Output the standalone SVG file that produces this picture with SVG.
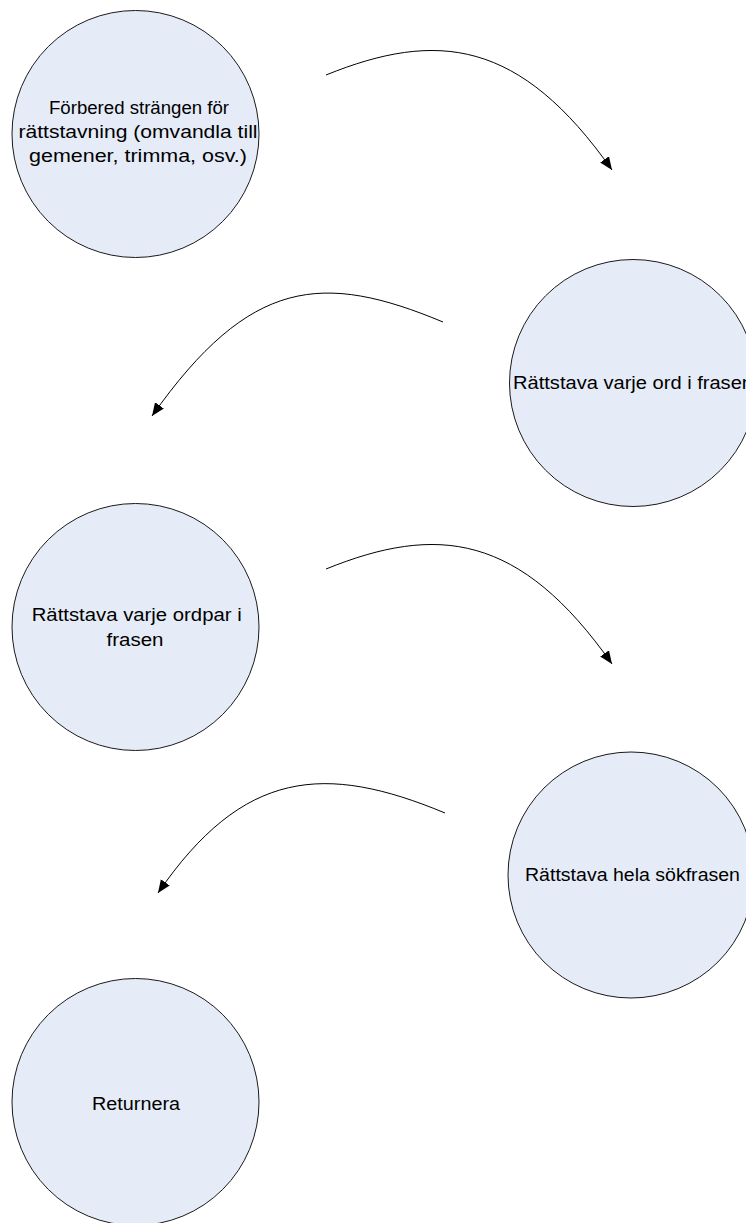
<svg xmlns="http://www.w3.org/2000/svg" width="746" height="1223" viewBox="0 0 746 1223">
<style>
.node{fill:#E6ECF7;stroke:#1a1a1a;stroke-width:1}
.lbl{font-family:"Liberation Sans",Arial,sans-serif;font-size:18.7px;fill:#000;text-anchor:middle}
.conn{fill:none;stroke:#000;stroke-width:1}
</style>
<defs>
<marker id="ah" markerUnits="userSpaceOnUse" markerWidth="14" markerHeight="12" refX="12" refY="5" orient="auto" viewBox="0 0 13 10">
<path d="M0,0 L12,5 L0,10 z" fill="#000"/>
</marker>
</defs>
<rect width="746" height="1223" fill="#fff"/>
<g id="n1">
<circle class="node" cx="135.5" cy="134" r="123.5"/>
<text class="lbl"><tspan x="139" y="114" textLength="180" lengthAdjust="spacingAndGlyphs">Förbered strängen för</tspan><tspan x="138" y="138" textLength="239" lengthAdjust="spacingAndGlyphs">rättstavning (omvandla till</tspan><tspan x="138" y="162" textLength="218" lengthAdjust="spacingAndGlyphs">gemener, trimma, osv.)</tspan></text>
</g>
<g id="n2">
<circle class="node" cx="633" cy="383" r="123.5"/>
<text class="lbl" x="633" y="389" textLength="240" lengthAdjust="spacingAndGlyphs">Rättstava varje ord i frasen</text>
</g>
<g id="n3">
<circle class="node" cx="135.5" cy="627" r="123.5"/>
<text class="lbl"><tspan x="136.7" y="621" textLength="210" lengthAdjust="spacingAndGlyphs">Rättstava varje ordpar i</tspan><tspan x="135" y="646" textLength="57" lengthAdjust="spacingAndGlyphs">frasen</tspan></text>
</g>
<g id="n4">
<circle class="node" cx="631" cy="875" r="123"/>
<text class="lbl" x="632.5" y="881" textLength="215" lengthAdjust="spacingAndGlyphs">Rättstava hela sökfrasen</text>
</g>
<g id="n5">
<circle class="node" cx="135.5" cy="1102" r="123.5"/>
<text class="lbl" x="136" y="1110" textLength="88" lengthAdjust="spacingAndGlyphs">Returnera</text>
</g>
<g id="connectors">
<path class="conn" d="M326,75 C437,30 520,39 612,170" marker-end="url(#ah)"/>
<path class="conn" d="M443,322 C323,272 250,277 152,416" marker-end="url(#ah)"/>
<path class="conn" d="M326,569 C437,524 520,533 612,664" marker-end="url(#ah)"/>
<path class="conn" d="M445,813 C325,763 243,769 158,893" marker-end="url(#ah)"/>
</g>
</svg>
